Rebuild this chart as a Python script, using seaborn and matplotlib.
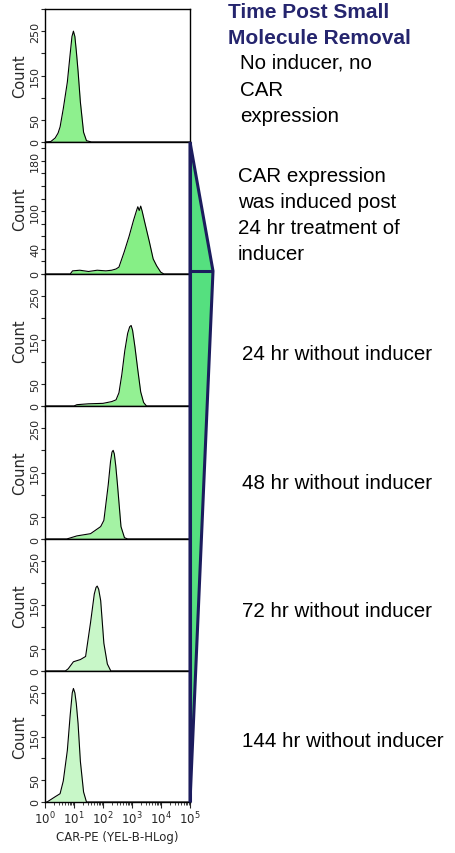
import numpy as np
import matplotlib
matplotlib.use("Agg")
import matplotlib.pyplot as plt
from matplotlib.patches import Polygon
from matplotlib.ticker import LogLocator, NullFormatter, FixedLocator
import seaborn as sns

# ---- histogram outlines: log10(CAR-PE intensity) vs event count ----
no_inducer_logx = [0.0, 0.2, 0.35, 0.45, 0.52, 0.63, 0.77, 0.87, 0.93, 0.98, 1.03, 1.08, 1.14, 1.22, 1.33, 1.43, 1.6, 5.0]
no_inducer_count = [0, 1, 9, 20, 34, 75, 135, 200, 238, 250, 238, 205, 160, 90, 22, 3, 0, 0]

induced_logx = [0.0, 0.87, 0.95, 1.2, 1.5, 1.8, 2.1, 2.3, 2.45, 2.55, 2.73, 2.9, 3.05, 3.15, 3.2,
                3.25, 3.3, 3.35, 3.43, 3.6, 3.73, 3.85, 3.99, 4.1, 5.0]
induced_count = [0, 0, 5, 6, 4, 6, 5, 6, 8, 11, 35, 60, 85, 100, 107,
                 101, 108, 100, 84, 51, 24, 13, 3, 0, 0]

h24_logx = [0.0, 1.0, 1.1, 1.5, 2.0, 2.3, 2.45, 2.55, 2.65, 2.75, 2.85, 2.92, 2.97, 3.02, 3.1, 3.2, 3.3, 3.4, 3.5, 5.0]
h24_count = [0, 0, 3, 5, 6, 10, 14, 30, 72, 125, 165, 180, 183, 172, 135, 82, 32, 8, 0, 0]

h48_logx = [0.0, 0.75, 0.85, 1.1, 1.57, 1.92, 2.03, 2.18, 2.26, 2.31, 2.35, 2.39, 2.44, 2.5, 2.62, 2.74, 2.85, 5.0]
h48_count = [0, 0, 2, 7, 12, 28, 42, 122, 175, 196, 200, 192, 165, 122, 28, 3, 0, 0]

h72_logx = [0.0, 0.7, 0.8, 0.98, 1.22, 1.4, 1.57, 1.7, 1.76, 1.8, 1.85, 1.92, 2.03, 2.15, 2.27, 5.0]
h72_count = [0, 0, 5, 21, 26, 33, 110, 175, 190, 193, 186, 160, 63, 16, 0, 0]

h144_logx = [0.0, 0.07, 0.35, 0.52, 0.63, 0.77, 0.87, 0.94, 0.98, 1.03, 1.08, 1.14, 1.22, 1.33, 1.43, 5.0]
h144_count = [0, 0, 12, 19, 48, 118, 200, 250, 260, 250, 225, 180, 93, 23, 0, 0]

panel_fills = ["#8ef08e", "#86ef86", "#93f193", "#a4f3a4", "#c8f7c8", "#c8f7c8"]
panel_ymax = [300, 210, 300, 300, 300, 300]
count_ticks = [0, 50, 100, 150, 200, 250, 300]
count_labels = ["0", "50", "", "150", "", "250", ""]
panel_yticks = [
    (count_ticks, count_labels),
    ([0, 20, 40, 60, 80, 100, 120, 140, 160, 180, 200], ["0", "", "40", "", "", "100", "", "", "", "180", ""]),
    (count_ticks, count_labels),
    (count_ticks, count_labels),
    (count_ticks, count_labels),
    (count_ticks, count_labels),
]

series = [
    (no_inducer_logx, no_inducer_count),
    (induced_logx, induced_count),
    (h24_logx, h24_count),
    (h48_logx, h48_count),
    (h72_logx, h72_count),
    (h144_logx, h144_count),
]

annotations = [
    (240, [63, 90, 117], ["No inducer, no", "CAR", "expression"]),
    (238, [176, 202, 228, 254], ["CAR expression", "was induced post", "24 hr treatment of", "inducer"]),
    (242, [355], ["24 hr without inducer"]),
    (242, [484], ["48 hr without inducer"]),
    (242, [612], ["72 hr without inducer"]),
    (242, [742], ["144 hr without inducer"]),
]

sns.set_style("ticks")
plt.rcParams["font.family"] = ["DejaVu Sans"]

W, H = 455, 854
fig = plt.figure(figsize=(W / 100, H / 100), dpi=100)

edges = [10, 143, 275, 407, 540, 672, 803]
x_left, x_right = 45, 190

for i, (lx, cnt) in enumerate(series):
    top, bot = edges[i], edges[i + 1]
    ax = fig.add_axes([x_left / W, 1 - bot / H, (x_right - x_left) / W, (bot - top) / H])
    xs = 10 ** np.asarray(lx, dtype=float)
    ys = np.asarray(cnt, dtype=float)
    ax.fill_between(xs, 0, ys, color=panel_fills[i], lw=0, zorder=1)
    sns.lineplot(x=xs, y=ys, ax=ax, color="black", lw=0.8, zorder=2, sort=True)
    ax.set_xscale("log")
    ax.set_xlim(1, 1e5)
    ax.set_ylim(0, panel_ymax[i])
    for sp in ax.spines.values():
        sp.set_color("black")
        sp.set_linewidth(1.0)
    ax.xaxis.set_major_locator(LogLocator(base=10, numticks=10))
    ax.xaxis.set_minor_locator(LogLocator(base=10, subs=np.arange(2, 10), numticks=20))
    ax.xaxis.set_minor_formatter(NullFormatter())
    ax.tick_params(axis="x", which="major", direction="out", length=4, width=0.8, labelsize=8.5, pad=1.5)
    ax.tick_params(axis="x", which="minor", direction="out", length=2, width=0.6)
    if i < len(series) - 1:
        ax.tick_params(axis="x", which="both", labelbottom=False)
    else:
        ax.set_xlabel("CAR-PE (YEL-B-HLog)", fontsize=8.5, labelpad=3)
    ticks, labels = panel_yticks[i]
    ax.yaxis.set_major_locator(FixedLocator(ticks))
    ax.set_yticklabels(labels)
    ax.tick_params(axis="y", which="major", direction="out", length=3, width=0.8, labelsize=8, pad=0.5)
    for t in ax.get_yticklabels():
        t.set_rotation(90)
        t.set_va("center")
    ax.set_ylabel("Count", fontsize=10.5)
    ax.yaxis.set_label_coords(-0.125, 0.5)

# overlay in pixel coordinates for the timeline wedge and the annotations
ov = fig.add_axes([0, 0, 1, 1], zorder=10)
ov.set_xlim(0, W)
ov.set_ylim(H, 0)
ov.axis("off")
ov.patch.set_alpha(0)

navy = "#1c1c5e"
wedge = Polygon([(190, 143), (213, 272), (190, 803)], closed=True,
                facecolor="#55e07f", edgecolor=navy, lw=2.2, joinstyle="miter")
ov.add_patch(wedge)
ov.plot([190, 213], [272, 272], color=navy, lw=2.2, solid_capstyle="butt")
ov.plot([190, 190], [143, 803], color=navy, lw=2.2, solid_capstyle="butt")

text_font = ["Liberation Sans", "DejaVu Sans"]
ov.text(228, 12, "Time Post Small", fontsize=15, fontweight="bold", color="#25256e",
        family=text_font, va="center", ha="left")
ov.text(228, 38, "Molecule Removal", fontsize=15, fontweight="bold", color="#25256e",
        family=text_font, va="center", ha="left")
for x0, ys_, lines in annotations:
    for y0, line in zip(ys_, lines):
        ov.text(x0, y0, line, fontsize=14.8, color="black", family=text_font, va="center", ha="left")

fig.savefig("out.png", dpi=100)
